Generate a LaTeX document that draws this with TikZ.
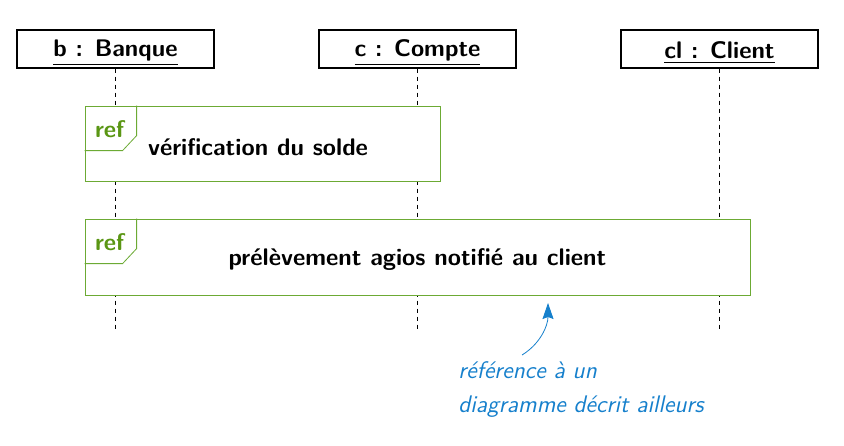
\documentclass[tikz,border=0pt]{standalone}
\usepackage{tikz}
\usetikzlibrary{arrows, arrows.meta, positioning, backgrounds}
\tikzset{>=stealth}
\definecolor{refgreen}{RGB}{108,170,52}
\definecolor{reftext}{RGB}{90,150,20}
\definecolor{noteblue}{RGB}{22,128,204}
\tikzset{
    obj/.style={draw, semithick, minimum width=98.5pt, minimum height=19pt, inner sep=0pt, text height=12pt, font=\large\sffamily\bfseries},
    lifeline/.style={dash pattern=on 2pt off 2pt, thin},
    frame/.style={draw=refgreen, fill=white, thin},
    reftab/.style={draw=refgreen, thin},
    reflabel/.style={text=reftext, inner sep=0pt, font=\large\sffamily\bfseries},
    note/.style={text=noteblue, align=left, inner sep=0pt, font=\large\sffamily\itshape},
}

\begin{document}
\begin{tikzpicture}[x=0.5pt, y=-0.5pt]
    \useasboundingbox (0,0) rectangle (844,445);
    % objets
    \node[obj] (b) at (115.5,49) {\underline{b : Banque}};
    \node[obj] (c) at (417.5,49) {\underline{c : Compte}};
    \node[obj] (cl) at (719.5,49) {\underline{cl : Client}};
    \coordinate (bend) at (115.5,332);
    \coordinate (cend) at (417.5,332);
    \coordinate (clend) at (719.5,332);
    \draw[lifeline] (b) -- (bend);
    \draw[lifeline] (c) -- (cend);
    \draw[lifeline] (cl) -- (clend);

    % fragments ref
    \node[frame, minimum width=177.5pt, minimum height=37.5pt] (r1) at (262.5,143.5) {};
    \node[font=\large\sffamily\bfseries] (t1) at (258,147) {vérification du solde};
    \node[frame, minimum width=332.5pt, minimum height=38pt] (r2) at (417.5,257) {};
    \node[font=\large\sffamily\bfseries] (t2) at (417.5,260) {prélèvement agios notifié au client};
    \foreach \r in {r1, r2}
    {
        \draw[reftab] (\r.north west) ++(52,0) -- ++(0,30) -- ++(-14,15) -- ++(-38,0);
        \node[reflabel, below right=7.5pt and 5pt of \r.north west] (\r lab) {ref};
    }

    % note
    \node[note, anchor=north west] (n) at (458,361) {référence à un\\[3pt]diagramme décrit ailleurs};
    \coordinate (from) at (522,355);
    \coordinate (tip) at (548,303);
    \draw[noteblue, thin, -{Stealth[length=8pt, width=5.5pt, inset=1pt]}] (from) .. controls (540,344) and (548,326) .. (tip);
\end{tikzpicture}
\end{document}
